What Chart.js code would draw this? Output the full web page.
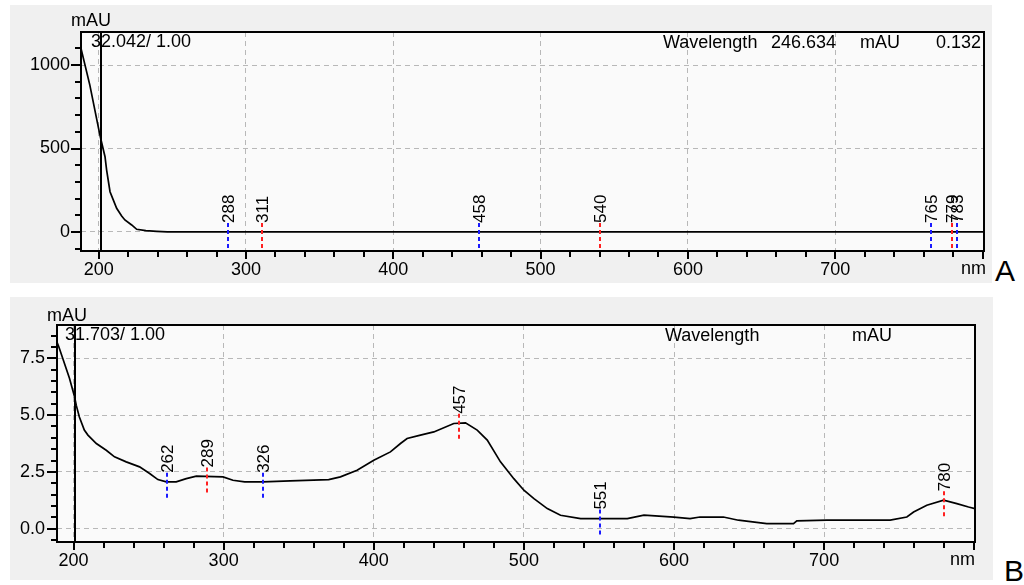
<!DOCTYPE html>
<html><head><meta charset="utf-8">
<script src="https://cdn.jsdelivr.net/npm/chart.js@4"></script>
<style>
html,body{margin:0;padding:0;background:#fff;width:1024px;height:585px;overflow:hidden;font-family:'Liberation Sans',Arial,sans-serif;}
.box{position:absolute;background:#f0f0f0;}
.box canvas{display:block;}
.tag{position:absolute;font-size:30px;line-height:30px;color:#000;font-family:'Liberation Sans',Arial,sans-serif;}
</style></head><body>
<div class="box" style="left:10px;top:5px;width:982px;height:278px"><canvas id="cA" width="982" height="278"></canvas></div>
<div class="box" style="left:10px;top:297px;width:983px;height:283px"><canvas id="cB" width="983" height="283"></canvas></div>
<div class="tag" style="left:995px;top:256px">A</div>
<div class="tag" style="left:1004px;top:556px">B</div>
<script>
// ---------- Panel A data ----------
const wavelengthA = [188, 194, 200.4, 201.6, 204.3, 205.4, 207.7, 209.9, 212.2, 215.6, 217.8, 222.4, 225.8, 232, 239.4, 246.6, 801];
const absorbanceA = [1100, 880, 600, 551, 451, 371, 241, 192, 142, 96, 72, 42, 16, 8, 4, 0.132, 0];
const peaksA = [288, 311, 458, 540, 765, 779, 783];
const peakLevelsA = [0, 0, 0, 0, 0, 0, 0];
const peakKindsA = ['min', 'max', 'min', 'max', 'min', 'max', 'min'];
const cursorA = 201.5;
const headerA = '32.042/ 1.00';
const readoutA = ['Wavelength', '246.634', 'mAU', '0.132'];
const xLabelsA = [200, 300, 400, 500, 600, 700];
const yLabelsA = [0, 500, 1000];

// ---------- Panel B data ----------
const wavelengthB = [188.9,190.2,197.3,200.7,201.8,203.9,207.2,209.6,215.2,221.8,227.3,235.1,244,250.7,256.2,261.8,268.4,275.1,281.8,299.6,306.2,314,326,344.4,370,377.8,388.9,400,411.1,417.8,422.2,431.1,440,453.3,461.1,468.9,475.6,484.4,493.3,500,506.7,515.6,524.4,537.8,568.9,580,600,610.7,617.3,632.9,642.9,661.8,679.6,681.8,701.8,744,755.1,759.6,768.4,779.6,788.4,796.2,800.5];
const absorbanceB = [8.23,8.01,6.62,5.81,5.44,4.92,4.34,4.12,3.75,3.45,3.16,2.94,2.72,2.43,2.16,2.06,2.06,2.2,2.31,2.28,2.13,2.06,2.06,2.1,2.16,2.28,2.57,3.01,3.38,3.75,3.97,4.12,4.26,4.63,4.66,4.34,3.9,2.94,2.2,1.69,1.32,0.88,0.59,0.44,0.44,0.59,0.51,0.44,0.51,0.51,0.37,0.22,0.22,0.34,0.37,0.37,0.51,0.73,1.03,1.25,1.1,0.95,0.88];
const peaksB = [262, 289, 326, 457, 551, 780];
const peakLevelsB = [2.06, 2.3, 2.06, 4.66, 0.44, 1.25];
const peakKindsB = ['min', 'max', 'min', 'max', 'min', 'max'];
const cursorB = 201.3;
const headerB = '31.703/ 1.00';
const readoutB = ['Wavelength', '', 'mAU', ''];
const xLabelsB = [200, 300, 400, 500, 600, 700];
const yLabelsB = [0, 2.5, 5, 7.5];

const FONT = "'Liberation Sans', Arial, sans-serif";
const kindColor = { min: '#1a1aff', max: '#ff2020' };

function range(a, b, step) { const out = []; const n = Math.round((b - a) / step); for (let i = 0; i <= n; i++) out.push(+(a + i * step).toFixed(4)); return out; }

const panelPlugin = {
  id: 'panel',
  beforeDraw(chart) {
    const o = chart.options.plugins.panel;
    const { ctx, chartArea: a } = chart;
    ctx.save();
    ctx.fillStyle = o.plotBg;
    ctx.fillRect(a.left, a.top, a.right - a.left, a.bottom - a.top);
    ctx.restore();
  },
  afterDraw(chart) {
    const o = chart.options.plugins.panel;
    const { ctx, chartArea: a, scales: { x, y } } = chart;
    ctx.save();
    ctx.setLineDash([]);
    // peak markers
    o.peaks.forEach((nm, i) => {
      const px = Math.round(x.getPixelForValue(nm));
      const py = y.getPixelForValue(o.levels[i]);
      const top = py - 9, bot = Math.min(py + 19, a.bottom);
      ctx.strokeStyle = kindColor[o.kinds[i]];
      ctx.lineWidth = 2;
      ctx.setLineDash([4, 3]);
      ctx.beginPath(); ctx.moveTo(px, top); ctx.lineTo(px, bot); ctx.stroke();
      ctx.setLineDash([]);
      ctx.save();
      ctx.translate(px, top);
      ctx.rotate(-Math.PI / 2);
      ctx.font = '17px ' + FONT;
      ctx.fillStyle = '#000';
      ctx.textAlign = 'left';
      ctx.textBaseline = 'middle';
      ctx.fillText(String(nm), 0, 1);
      ctx.restore();
    });
    // cursor
    const cx = Math.round(x.getPixelForValue(o.cursor));
    ctx.strokeStyle = '#000'; ctx.lineWidth = 2;
    ctx.beginPath(); ctx.moveTo(cx, a.top); ctx.lineTo(cx, a.bottom); ctx.stroke();
    // frame
    ctx.strokeRect(a.left, a.top, a.right - a.left, a.bottom - a.top);
    // tick marks
    ctx.strokeStyle = '#000';
    ctx.lineWidth = 2;
    ctx.beginPath();
    for (const v of o.xTickValues) {
      const px = Math.round(x.getPixelForValue(v));
      const len = (o.xLabels.includes(v) || v === 800) ? 8 : 6;
      ctx.moveTo(px, a.bottom); ctx.lineTo(px, a.bottom + len);
    }
    for (const v of o.yTickValues) {
      const py = Math.round(y.getPixelForValue(v));
      const len = o.yLabels.includes(v) ? 10 : 6;
      ctx.moveTo(a.left - len, py); ctx.lineTo(a.left, py);
    }
    ctx.stroke();
    // texts
    ctx.fillStyle = '#000';
    ctx.font = '18px ' + FONT;
    ctx.textBaseline = 'middle';
    ctx.textAlign = 'left';
    ctx.fillText('mAU', o.unitPos[0], o.unitPos[1]);
    ctx.fillText(o.header, a.left + o.headerDx, a.top + o.headerDy);
    o.readout.forEach((s, i) => {
      if (!s) return;
      const [px, al] = o.readoutPos[i];
      ctx.textAlign = al;
      ctx.fillText(s, px, a.top + o.headerDy + 1);
    });
    ctx.textAlign = 'right';
    ctx.fillText('nm', a.right + o.nmDx, a.bottom + 18);
    ctx.restore();
  }
};

function buildChart(id, s) {
  const xTickValues = range(200, 800, 20);
  const yTickValues = range(s.yTickMin, s.yTickMax, s.yStep);
  s.panel.xTickValues = xTickValues;
  s.panel.yTickValues = yTickValues;
  return new Chart(document.getElementById(id), {
    type: 'line',
    data: { datasets: [{
      data: s.nm.map((v, i) => ({ x: v, y: s.val[i] })),
      borderColor: '#000', borderWidth: 1.7, pointRadius: 0, tension: 0, fill: false
    }] },
    options: {
      responsive: false, animation: false, devicePixelRatio: 1, events: [],
      layout: { padding: { left: 0, top: s.padTop, right: s.padRight, bottom: 0 } },
      plugins: { legend: { display: false }, tooltip: { enabled: false }, panel: s.panel },
      scales: {
        x: {
          type: 'linear', min: s.xMin, max: s.xMax,
          afterFit: sc => { sc.height = s.xAxisH; },
          afterBuildTicks: sc => { sc.ticks = xTickValues.map(v => ({ value: v })); },
          ticks: { autoSkip: false, maxRotation: 0, padding: 8, color: '#000', font: { family: FONT, size: 18 },
                   callback: v => s.xLabels.includes(v) ? String(v) : '' },
          grid: { drawTicks: false, lineWidth: 1, color: c => (c.tick && s.xLabels.includes(c.tick.value)) ? '#b8b8b8' : 'rgba(0,0,0,0)' },
          border: { display: false, dash: [5, 4] }
        },
        y: {
          type: 'linear', min: s.yMin, max: s.yMax,
          afterFit: sc => { sc.width = s.yAxisW; },
          afterBuildTicks: sc => { sc.ticks = yTickValues.map(v => ({ value: v })); },
          ticks: { autoSkip: false, padding: s.yPad, color: '#000', font: { family: FONT, size: 18 },
                   callback: v => s.yLabels.includes(v) ? s.fmt(v) : '' },
          grid: { drawTicks: false, lineWidth: 1, color: c => (c.tick && s.yLabels.includes(c.tick.value)) ? '#b8b8b8' : 'rgba(0,0,0,0)' },
          border: { display: false, dash: [5, 4] }
        }
      }
    },
    plugins: [panelPlugin]
  });
}

buildChart('cA', {
  nm: wavelengthA, val: absorbanceA, xLabels: xLabelsA, yLabels: yLabelsA,
  xMin: 188, xMax: 801, yMin: -114, yMax: 1198, yTickMin: -100, yTickMax: 1100, yStep: 100,
  padTop: 27, padRight: 8, xAxisH: 32, yAxisW: 71, yPad: 11, fmt: v => String(v),
  panel: { plotBg: '#fafafa', peaks: peaksA, levels: peakLevelsA, kinds: peakKindsA, cursor: cursorA,
    xLabels: xLabelsA, yLabels: yLabelsA, header: headerA, headerDx: 10, headerDy: 10,
    readout: readoutA, readoutPos: [[653, 'left'], [761, 'left'], [850, 'left'], [971, 'right']],
    unitPos: [61, 16], nmDx: 2 }
});

buildChart('cB', {
  nm: wavelengthB, val: absorbanceB, xLabels: xLabelsB, yLabels: yLabelsB,
  xMin: 189, xMax: 800.5, yMin: -0.59, yMax: 8.97, yTickMin: -0.5, yTickMax: 8.5, yStep: 0.5,
  padTop: 28, padRight: 18, xAxisH: 38, yAxisW: 47, yPad: 12, fmt: v => v.toFixed(1),
  panel: { plotBg: '#fafafa', peaks: peaksB, levels: peakLevelsB, kinds: peakKindsB, cursor: cursorB,
    xLabels: xLabelsB, yLabels: yLabelsB, header: headerB, headerDx: 8, headerDy: 10,
    readout: readoutB, readoutPos: [[655, 'left'], [0, 'left'], [842, 'left'], [0, 'right']],
    unitPos: [37, 19], nmDx: 0 }
});
</script>
</body></html>
